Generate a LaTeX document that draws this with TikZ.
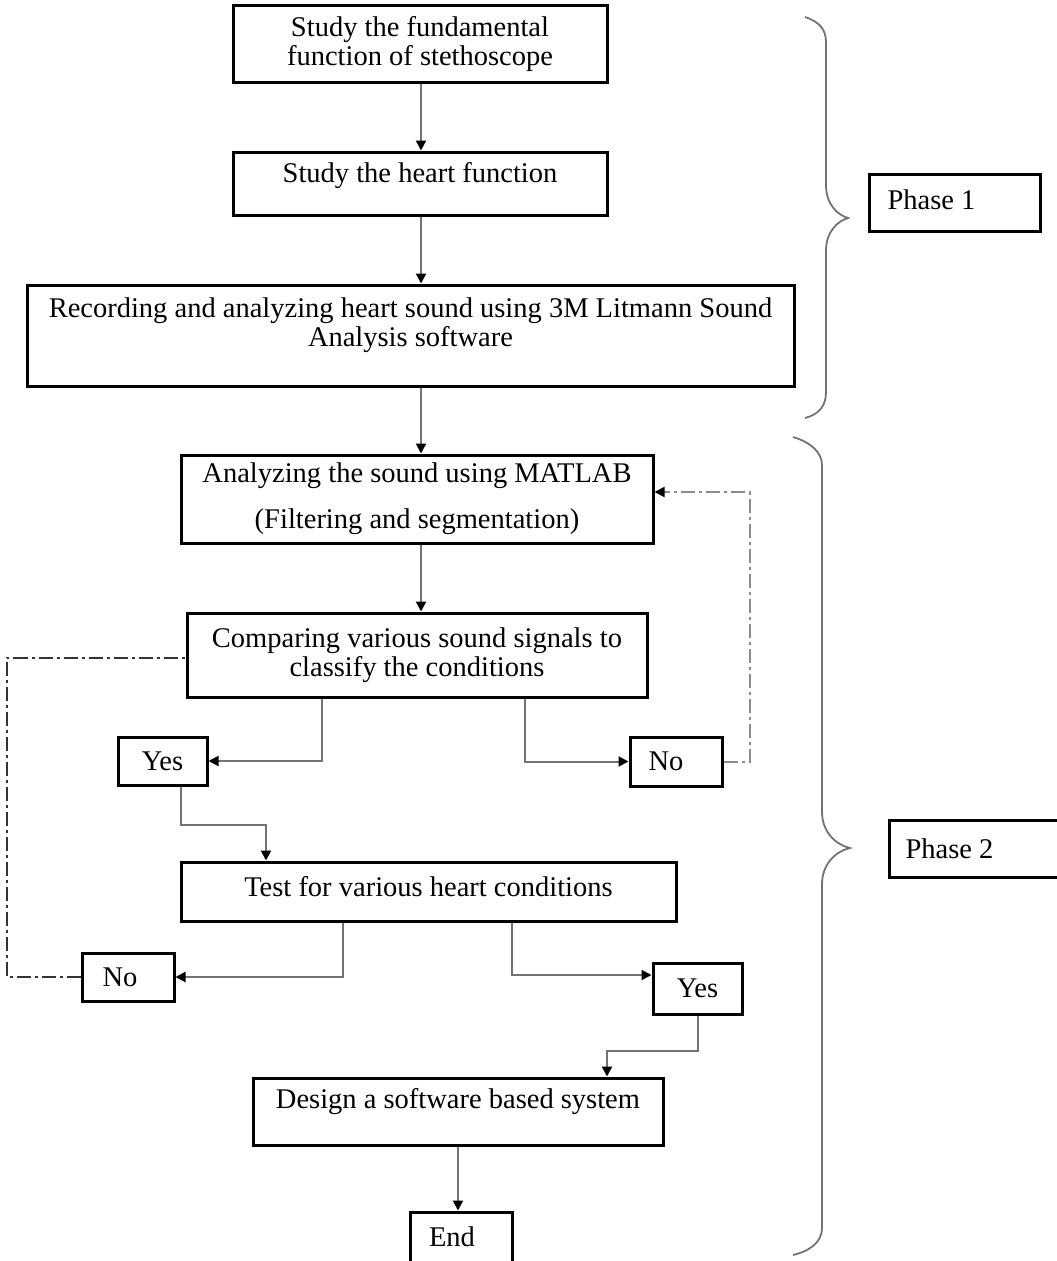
\documentclass[tikz,border=0pt]{standalone}
\usepackage{fontspec}
\setmainfont{Liberation Serif}
\usetikzlibrary{arrows.meta,calc}
\begin{document}
\begin{tikzpicture}[x=1pt,y=-1pt,
  box/.style={draw=black, line width=3pt, inner sep=0pt},
  txt/.style={font=\fontsize{28.5}{29}\selectfont, align=center, inner sep=0pt},
  conn/.style={draw=black!55, line width=2pt, -{Triangle[length=10pt,width=10pt,color=black]}},
  dd/.style={line width=2pt, dash pattern=on 14pt off 4pt on 3pt off 4pt},
  brace/.style={draw=black!55, line width=1.8pt}]
\useasboundingbox (0,0) rectangle (1057,1261);
% boxes
\node[box, minimum width=374pt, minimum height=77pt] (b1) at (420,43.5) {};
\node[txt] (t1) at (b1) {Study the fundamental\\function of stethoscope};
\node[box, minimum width=374pt, minimum height=63pt] (b2) at (420,183.5) {};
\node[txt] (t2) at ([yshift=7.5pt]b2.center) {Study the heart function};
\node[box, minimum width=767pt, minimum height=101pt] (b3) at (410.5,335.5) {};
\node[txt] (t3) at ([yshift=10pt]b3.center) {Recording and analyzing heart sound using 3M Litmann Sound\\Analysis software};
\node[box, minimum width=472pt, minimum height=88pt] (b4) at (417,499) {};
\node[txt] (t4) at (b4) {Analyzing the sound using MATLAB\\[17pt](Filtering and segmentation)};
\node[box, minimum width=460pt, minimum height=84pt] (b5) at (417,655) {};
\node[txt] (t5) at (b5) {Comparing various sound signals to\\classify the conditions};
\node[box, minimum width=89pt, minimum height=48pt] (yes1) at (162.5,761) {};
\node[txt] (ty1) at (yes1) {Yes};
\node[box, minimum width=92pt, minimum height=49pt] (no1) at (676,761.5) {};
\node[txt] (tn1) at ([xshift=-10pt]no1.center) {No};
\node[box, minimum width=495pt, minimum height=59pt] (test) at (428.5,891.5) {};
\node[txt] (tt) at ([yshift=5pt]test.center) {Test for various heart conditions};
\node[box, minimum width=92pt, minimum height=48pt] (no2) at (128,977) {};
\node[txt] (tn2) at ([xshift=-8pt]no2.center) {No};
\node[box, minimum width=89pt, minimum height=51pt] (yes2) at (697.5,988.5) {};
\node[txt] (ty2) at (yes2) {Yes};
\node[box, minimum width=410pt, minimum height=67pt] (design) at (458,1111.5) {};
\node[txt] (td) at ([yshift=10pt]design.center) {Design a software based system};
\node[box, minimum width=102pt, minimum height=50pt] (end) at (461,1237) {};
\node[txt] (te) at ([xshift=-9pt]end.center) {End};
\node[box, minimum width=171pt, minimum height=57pt] (ph1) at (954.5,202.5) {};
\node[txt] (tp1) at ([xshift=-23pt,yshift=3pt]ph1.center) {Phase 1};
\node[box, minimum width=169pt, minimum height=57pt] (ph2) at (973.5,848.5) {};
\node[txt] (tp2) at ([xshift=-24pt]ph2.center) {Phase 2};
% connectors
\draw[conn] ([xshift=1pt]b1.south) -- ([xshift=1pt]b2.north);
\draw[conn] ([xshift=1pt]b2.south) -- ([xshift=1pt]b2.south |- b3.north);
\draw[conn] ([xshift=1pt]b2.south |- b3.south) -- ([xshift=1pt]b2.south |- b4.north);
\draw[conn] ([xshift=4pt]b4.south) -- ([xshift=4pt]b5.north);
\draw[conn] ([xshift=-95pt]b5.south) |- (yes1.east);
\draw[conn] ([xshift=108pt]b5.south) |- (no1.east -| no1.west);
\draw[conn, dd, draw=black!45] (no1.east) -- ++(26,0) |- ([yshift=7pt]b4.east);
\draw[conn] ([xshift=18.5pt]yes1.south) -- ++(0,38) -| ([xshift=-162.5pt]test.north);
\draw[conn] ([xshift=-85.5pt]test.south) |- (no2.east);
\draw[conn] ([xshift=83.5pt]test.south) |- ([yshift=13.5pt]yes2.west);
\draw[conn] (yes2.south) -- ++(0,35) -| ([xshift=149pt]design.north);
\draw[conn] (design.south) -- (design.south |- end.north);
\draw[dd, draw=black!80] (no2.west) -- ++(-74,0) |- ([yshift=-3pt]b5.west);
% braces
\draw[brace] (805,17) .. controls (820,22) and (826,30) .. (826,42)
  -- (826,185) .. controls (826,205) and (838,215) .. (848,218)
  .. controls (838,221) and (826,231) .. (826,251)
  -- (826,392) .. controls (826,405) and (820,414) .. (805,418);
\draw[brace] (793,437) .. controls (810,442) and (822,452) .. (822,465)
  -- (822,812) .. controls (822,832) and (836,845) .. (850,848)
  .. controls (836,851) and (822,864) .. (822,884)
  -- (822,1228) .. controls (822,1242) and (810,1251) .. (793,1255);
\end{tikzpicture}
\end{document}
